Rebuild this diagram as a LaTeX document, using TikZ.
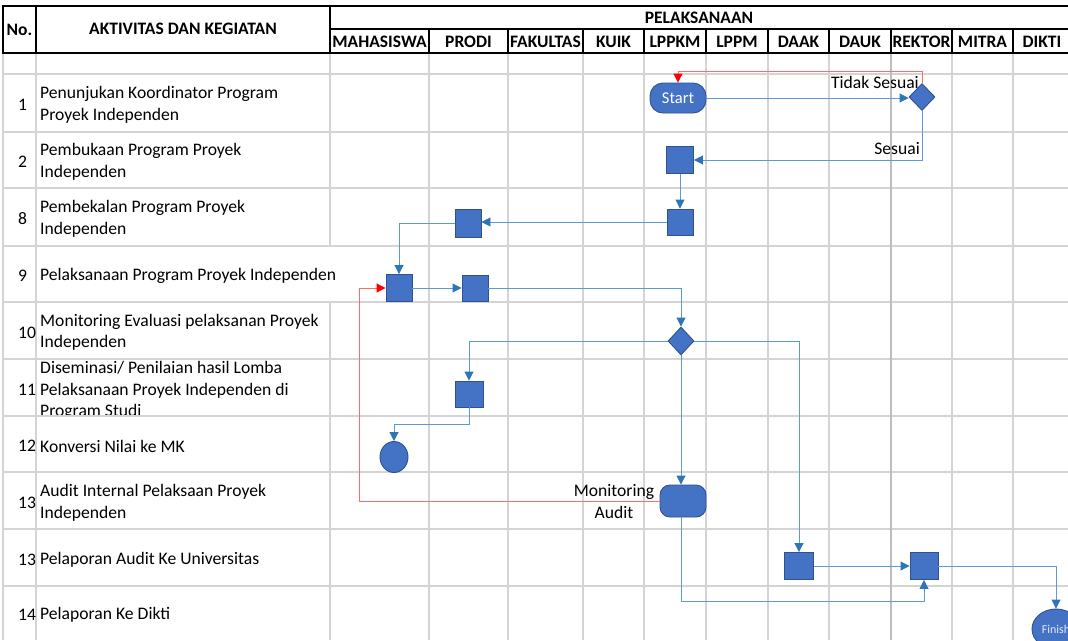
\documentclass[tikz,border=0pt]{standalone}
\usepackage{fontspec}
\setmainfont{Carlito}
\usetikzlibrary{arrows.meta,shapes.geometric,calc}
\definecolor{shapefill}{HTML}{4472C4}
\definecolor{shapeline}{HTML}{2F528F}
\definecolor{connline}{HTML}{5B9BD5}
\definecolor{conntip}{HTML}{2E75B6}
\definecolor{gridgray}{HTML}{D4D4D4}
\definecolor{gridgraydark}{HTML}{BDBDBD}
\definecolor{redlight}{HTML}{FF6B6B}
\tikzset{
  gline/.style={draw=gridgray, line width=1.3pt},
  hdr/.style={draw=black, line width=1.8pt, line cap=rect},
  basefont/.style={font=\fontsize{17.6}{21.6}\selectfont},
  rowtxt/.style={basefont, anchor=west, align=left, inner sep=0pt},
  hdrtxt/.style={font=\fontsize{17.5}{21.5}\selectfont\bfseries, inner sep=0pt},
  proc/.style={rectangle, fill=shapefill, draw=shapeline, line width=0.9pt, minimum width=27pt, minimum height=27pt, inner sep=0pt},
  dec/.style={diamond, fill=shapefill, draw=shapeline, line width=0.9pt, minimum width=26pt, minimum height=27pt, inner sep=0pt},
  conn/.style={draw=connline, line width=0.9pt, -{Triangle[length=9pt,width=9pt,color=conntip]}},
  redc/.style={draw=redlight, line width=1pt, -{Triangle[length=9pt,width=9pt,color=red]}},
  lbl/.style={basefont, inner sep=0pt}
}
\begin{document}
\begin{tikzpicture}[x=1pt,y=-1pt]
\useasboundingbox (0,0) rectangle (1068,640);
\clip (0,0) rectangle (1068,640);
\fill[white] (0,0) rectangle (1068,640);
% body grid
\foreach \y in {74,132,188,246,302,359,416,472,529,586} \draw[gline] (3,\y) -- (1068,\y);
\foreach \x in {3,36,429,508,583,644,706,768,829,952,1013} \draw[gline] (\x,53) -- (\x,640);
\draw[draw=gridgraydark, line width=2pt] (891,53) -- (891,640);
\draw[gline] (330,53) -- (330,246) (330,302) -- (330,640);
% header lines
\draw[hdr] (3,6) -- (1068,6);
\draw[hdr] (3,53) -- (1068,53);
\draw[hdr] (330,29) -- (1068,29);
\foreach \x in {3,36,330} \draw[hdr] (\x,6) -- (\x,53);
\foreach \x in {429,508,583,644,706,768,829,891,952,1013} \draw[hdr] (\x,29) -- (\x,53);
% header text
\node[hdrtxt] (hno) at (19.5,30) {No.};
\node[hdrtxt] (hakt) at (183,29) {AKTIVITAS DAN KEGIATAN};
\node[hdrtxt] (hpel) at (699,18) {PELAKSANAAN};
\node[hdrtxt] (hmhs) at (379.5,42) {MAHASISWA};
\node[hdrtxt] (hprodi) at (468.5,42) {PRODI};
\node[hdrtxt] (hfak) at (545.5,42) {FAKULTAS};
\node[hdrtxt] (hkuik) at (613.5,42) {KUIK};
\node[hdrtxt] (hlppkm) at (675,42) {LPPKM};
\node[hdrtxt] (hlppm) at (737,42) {LPPM};
\node[hdrtxt] (hdaak) at (798.5,42) {DAAK};
\node[hdrtxt] (hdauk) at (860,42) {DAUK};
\node[hdrtxt] (hrek) at (921.5,42) {REKTOR};
\node[hdrtxt] (hmitra) at (982.5,42) {MITRA};
\node[hdrtxt] (hdikti) at (1042,42) {DIKTI};
% row numbers
\node[rowtxt] (n1) at (18,105) {1};
\node[rowtxt] (n2) at (18,162) {2};
\node[rowtxt] (n3) at (18,219) {8};
\node[rowtxt] (n4) at (18,276) {9};
\node[rowtxt] (n5) at (18,332.5) {10};
\node[rowtxt] (n6) at (18,390) {11};
\node[rowtxt] (n7) at (18,446) {12};
\node[rowtxt] (n8) at (18,502.5) {13};
\node[rowtxt] (n9) at (18,559.5) {13};
\node[rowtxt] (n10) at (18,615) {14};
% row texts
\node[rowtxt] (t1) at (40,105) {Penunjukan Koordinator Program\\Proyek Independen};
\node[rowtxt] (t2) at (40,162) {Pembukaan Program Proyek\\Independen};
\node[rowtxt] (t3) at (40,219) {Pembekalan Program Proyek\\Independen};
\node[rowtxt] (t4) at (40,276) {Pelaksanaan Program Proyek Independen};
\node[rowtxt] (t5) at (40,332.5) {Monitoring Evaluasi pelaksanan Proyek\\Independen};
\begin{scope}
\clip (36,359) rectangle (330,414);
\node[rowtxt] (t6) at (40,390.5) {Diseminasi/ Penilaian hasil Lomba\\Pelaksanaan Proyek Independen di\\Program Studi};
\end{scope}
\node[rowtxt] (t7) at (40,446) {Konversi Nilai ke MK};
\node[rowtxt] (t8) at (40,502.5) {Audit Internal Pelaksaan Proyek\\Independen};
\node[rowtxt] (t9) at (40,559.5) {Pelaporan Audit Ke Universitas};
\node[rowtxt] (t10) at (40,615) {Pelaporan Ke Dikti};
% shapes
\node[proc, rounded corners=13pt, minimum width=56pt, minimum height=30pt, text=white, font=\fontsize{16.5}{18}\selectfont] (start) at (678,98) {Start};
\node[dec] (d1) at (922,97) {};
\node[proc] (s2) at (680,160) {};
\node[proc, minimum width=26pt, minimum height=26pt] (s3) at (680,222) {};
\node[proc, minimum width=26pt, minimum height=28pt] (p8) at (468,223) {};
\node[proc, minimum width=26pt] (m9) at (399,288) {};
\node[proc, minimum width=26pt, minimum height=26pt] (p9) at (475,288) {};
\node[dec, minimum height=28pt] (d2) at (681,341) {};
\node[proc, minimum width=28pt, minimum height=26pt] (p11) at (469,394) {};
\node[ellipse, fill=shapefill, draw=shapeline, line width=0.9pt, minimum width=28pt, minimum height=31pt, inner sep=0pt] (c12) at (394,457) {};
\node[proc, rounded corners=10pt, minimum width=46pt, minimum height=32pt] (ma) at (683,501) {};
\node[proc, minimum width=29pt] (daak) at (799,566) {};
\node[proc, minimum width=28pt] (rek) at (924,566) {};
\node[ellipse, fill=shapefill, draw=shapeline, line width=0.9pt, minimum width=48pt, minimum height=40pt, inner sep=0pt, text=white!85!shapefill, font=\fontsize{12}{14}\selectfont] (fin) at (1056,629) {Finish};
% labels
\node[lbl, anchor=east] (ltidak) at (919,82) {Tidak Sesuai};
\node[lbl, anchor=east] (lsesuai) at (920,149) {Sesuai};
\node[lbl, align=center] (lma) at (614,501.5) {Monitoring\\Audit};
% connectors
\draw[conn] (start.east) -- (start.east -| d1.west);
\draw[redc] (d1.north) -- ([yshift=12pt]d1.north) -| (start.north);
\draw[conn] (d1.south) |- (s2.east);
\draw[conn] (s2.south) -- (s3.north);
\draw[conn] (s3.west) -- (s3.west -| p8.east);
\draw[conn] (p8.west) -| (m9.north);
\draw[conn] (m9.east) -- (p9.west);
\draw[conn] (p9.east) -| (d2.north);
\draw[conn] (d2.west) -| (p11.north);
\draw[conn] (p11.south) -- ([yshift=-17pt]p11.south) -| (c12.north);
\draw[conn] (d2.south) -- (d2.south |- ma.north);
\draw[conn] (d2.east) -| (daak.north);
\draw[redc] (ma.west) -| ([xshift=-26pt]m9.west) -- (m9.west);
\draw[conn] (daak.east) -- (rek.west);
\draw[conn] ([xshift=-2pt]ma.south) |- ([yshift=-21pt]rek.south) -- (rek.south);
\draw[conn] (rek.east) -| (fin.north);
\end{tikzpicture}
\end{document}
